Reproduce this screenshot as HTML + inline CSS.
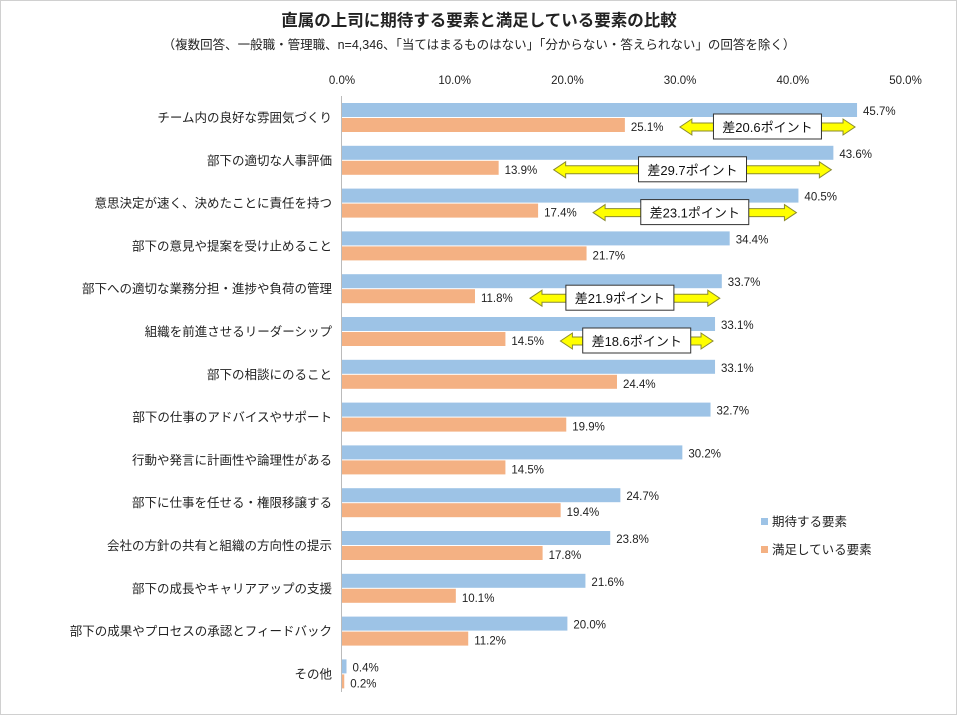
<!DOCTYPE html>
<html><head><meta charset="utf-8"><style>
body{margin:0;background:#fff;}
svg{display:block;font-family:"Liberation Sans","Noto Sans CJK JP",sans-serif;}
</style></head><body>
<svg id="chart" width="957" height="715" viewBox="0 0 957 715">
<rect x="0.5" y="0.5" width="956" height="714" fill="#fff" stroke="#d0d0d0"/>
<text x="479" y="26" text-anchor="middle" font-size="16.5" font-weight="bold" fill="#222">直属の上司に期待する要素と満足している要素の比較</text>
<text x="479" y="49" text-anchor="middle" font-size="12.5" fill="#222">（複数回答、一般職・管理職、n=4,346、「当てはまるものはない」「分からない・答えられない」の回答を除く）</text>
<g id="plot"></g>
</svg>
<script>
const categories=["チーム内の良好な雰囲気づくり","部下の適切な人事評価","意思決定が速く、決めたことに責任を持つ","部下の意見や提案を受け止めること","部下への適切な業務分担・進捗や負荷の管理","組織を前進させるリーダーシップ","部下の相談にのること","部下の仕事のアドバイスやサポート","行動や発言に計画性や論理性がある","部下に仕事を任せる・権限移譲する","会社の方針の共有と組織の方向性の提示","部下の成長やキャリアアップの支援","部下の成果やプロセスの承認とフィードバック","その他"];
const expected=[45.7,43.6,40.5,34.4,33.7,33.1,33.1,32.7,30.2,24.7,23.8,21.6,20.0,0.4];
const satisfied=[25.1,13.9,17.4,21.7,11.8,14.5,24.4,19.9,14.5,19.4,17.8,10.1,11.2,0.2];
const ticks=[0,10,20,30,40,50];
const gapRows=[0,1,2,4,5];
const gapLabels=["差20.6ポイント","差29.7ポイント","差23.1ポイント","差21.9ポイント","差18.6ポイント"];
const NS="http://www.w3.org/2000/svg";
const g=document.getElementById('plot');
const X=v=>342+v*11.27;
const Y=i=>103+i*42.8;
function mk(t,a,txt){const e=document.createElementNS(NS,t);for(const k in a)e.setAttribute(k,a[k]);if(txt!=null)e.textContent=txt;g.appendChild(e);return e;}
ticks.forEach(t=>{const e=mk('text',{x:X(t),y:84,'text-anchor':'middle','font-size':11.5,fill:'#222'},t.toFixed(1)+'%');

});
const ax=mk('line',{x1:341.5,y1:96,x2:341.5,y2:692,stroke:'#bbb'});


categories.forEach((c,i)=>{
const y=Y(i);
const l=mk('text',{x:332,y:y+19,'text-anchor':'end','font-size':12.5,fill:'#222'},c);


const b=mk('rect',{x:342,y:y,width:X(expected[i])-342,height:14,fill:'#9dc3e6'});


const o=mk('rect',{x:342,y:y+15,width:X(satisfied[i])-342,height:14,fill:'#f4b183'});


const t1=mk('text',{x:X(expected[i])+6,y:y+12,'font-size':11.5,fill:'#222'},expected[i].toFixed(1)+'%');


const t2=mk('text',{x:X(satisfied[i])+6,y:y+28,'font-size':11.5,fill:'#222'},satisfied[i].toFixed(1)+'%');


});
gapRows.forEach((r,k)=>{
const x1=X(satisfied[r])+55,x2=X(expected[r])-2,cy=Y(r)+24,h=4,H=8,hl=12;
const p=mk('path',{d:`M${x1},${cy} L${x1+hl},${cy-H} L${x1+hl},${cy-h} L${x2-hl},${cy-h} L${x2-hl},${cy-H} L${x2},${cy} L${x2-hl},${cy+H} L${x2-hl},${cy+h} L${x1+hl},${cy+h} L${x1+hl},${cy+H} Z`,fill:'#ffff00',stroke:'#8a8a30','stroke-width':1});


const cx=(x1+x2)/2+(k==3?-5:0);
const bx=mk('rect',{x:cx-54,y:cy-13,width:108,height:25,fill:'#fff',stroke:'#333','stroke-width':1});


const tx=mk('text',{x:cx,y:cy+5,'text-anchor':'middle','font-size':13,fill:'#111'},gapLabels[k]);


});
const lg=[['#9dc3e6','期待する要素',522],['#f4b183','満足している要素',550]];
lg.forEach(([c,t,y])=>{
const s=mk('rect',{x:761,y:y-4,width:7,height:7,fill:c});


const e=mk('text',{x:772,y:y+4,'font-size':12.5,fill:'#222'},t);


});
</script>
</body></html>
